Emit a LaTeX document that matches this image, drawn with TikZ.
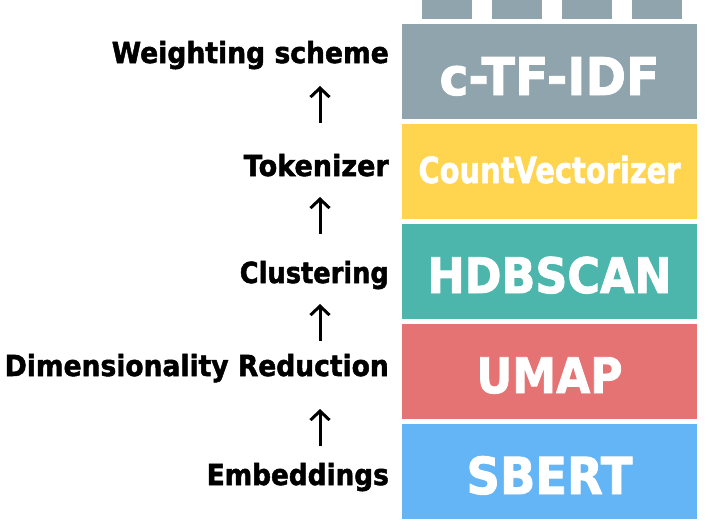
\documentclass[tikz,border=0pt]{standalone}
\usepackage{fontspec}
\setmainfont{DejaVu Sans}
\newfontfamily\heavyfont{DejaVu Sans Bold}[FakeBold=1.8]
\usetikzlibrary{arrows.meta}
\definecolor{bgrey}{HTML}{90A4AE}
\definecolor{bamber}{HTML}{FFD54F}
\definecolor{bteal}{HTML}{4DB6AC}
\definecolor{bred}{HTML}{E57373}
\definecolor{bblue}{HTML}{64B5F6}
% text stretched horizontally to a given width, height kept
\newcommand{\fitwidth}[2]{\resizebox{#1}{\height}{#2}}
\tikzset{
  layer/.style={draw=none, fill=#1, minimum width=295pt, minimum height=95pt,
    inner sep=0pt, anchor=north west},
  tab/.style={fill=bgrey, draw=none, minimum width=50pt, minimum height=19pt,
    inner sep=0pt, anchor=north west},
  stepname/.style={inner sep=0pt, anchor=base east, text=black,
    font=\heavyfont\fontsize{29pt}{30pt}\selectfont},
  libname/.style={inner sep=0pt, anchor=base, text=white,
    font=\heavyfont\fontsize{#1}{#1}\selectfont},
  uparrow/.style={-{Straight Barb[length=9pt,width=19pt,line width=3pt]},
    line width=3pt, black},
}
\begin{document}
\begin{tikzpicture}[x=1pt,y=-1pt]
  \useasboundingbox[fill=white] (0,0) rectangle (708,531);

  % small tabs on top of the stack
  \node[tab] (tab1) at (422,0) {};
  \node[tab] (tab2) at (492,0) {};
  \node[tab] (tab3) at (562,0) {};
  \node[tab] (tab4) at (632,0) {};

  % stacked layers
  \node[layer=bgrey]  (ctfidf) at (402,24)  {};
  \node[layer=bamber] (cv)     at (402,124) {};
  \node[layer=bteal]  (hdb)    at (402,224) {};
  \node[layer=bred]   (umap)   at (402,324) {};
  \node[layer=bblue]  (sbert)  at (402,424) {};

  % library names
  \node[libname=52pt] (tctfidf) at (549.5,95)  {\fitwidth{220pt}{c-TF-IDF}};
  \node[libname=36pt] (tcv)     at (549.5,183) {\fitwidth{262pt}{CountVectorizer}};
  \node[libname=49pt] (thdb)    at (549.5,293) {\fitwidth{244pt}{HDBSCAN}};
  \node[libname=49pt] (tumap)   at (549.5,393) {\fitwidth{146pt}{UMAP}};
  \node[libname=51pt] (tsbert)  at (549.5,494) {\fitwidth{166pt}{SBERT}};

  % step names
  \node[stepname] (weight) at (389,63)  {\fitwidth{277pt}{Weighting scheme}};
  \node[stepname] (token)  at (389,176) {\fitwidth{145pt}{Tokenizer}};
  \node[stepname] (clust)  at (389,283) {\fitwidth{149pt}{Clustering}};
  \node[stepname] (dimred) at (389,376) {\fitwidth{384pt}{Dimensionality Reduction}};
  \node[stepname] (embed)  at (389,485) {\fitwidth{182pt}{Embeddings}};

  % arrows between the steps
  \coordinate (a1s) at (320,123); \coordinate (a1e) at (320,86);
  \coordinate (a2s) at (320,234); \coordinate (a2e) at (320,197);
  \coordinate (a3s) at (320,341); \coordinate (a3e) at (320,304);
  \coordinate (a4s) at (320,446); \coordinate (a4e) at (320,409);
  \draw[uparrow] (a1s) -- (a1e);
  \draw[uparrow] (a2s) -- (a2e);
  \draw[uparrow] (a3s) -- (a3e);
  \draw[uparrow] (a4s) -- (a4e);
\end{tikzpicture}
\end{document}
